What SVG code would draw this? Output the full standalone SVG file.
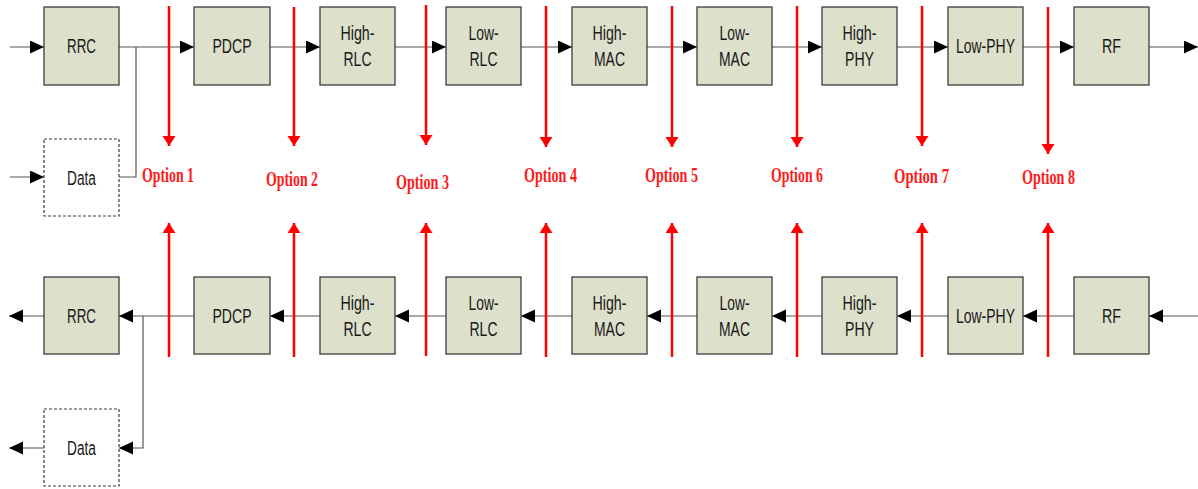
<svg xmlns="http://www.w3.org/2000/svg" width="1198" height="489" viewBox="0 0 1198 489">
  <style>
    .box { fill: #dde0cb; stroke: #3c3c3c; stroke-width: 1.3; }
    .data { fill: #ffffff; stroke: #3c3c3c; stroke-width: 1.2; stroke-dasharray: 3 2; }
    .lbl { font-family: "Liberation Sans", Arial, sans-serif; font-size: 19.5px; fill: #1a1a1a; text-anchor: middle; }
    .opt { font-family: "Liberation Serif", "Times New Roman", serif; font-size: 20px; font-weight: bold; fill: #ff1a1a; }
    .wire { fill: none; stroke: #555555; stroke-width: 1.2; }
    .split { stroke: #ff0000; stroke-width: 2.5; fill: none; }
  </style>
  <defs>
    <marker id="head" markerUnits="userSpaceOnUse" markerWidth="15" markerHeight="14" refX="14" refY="6.5" orient="auto">
      <path d="M0,0 L14,6.5 L0,13 Z" fill="#000000"/>
    </marker>
    <marker id="redhead" markerUnits="userSpaceOnUse" markerWidth="11" markerHeight="14" refX="10" refY="6.5" orient="auto">
      <path d="M0,0 L10,6.5 L0,13 Z" fill="#ff0000"/>
    </marker>
  </defs>

  <!-- connectors -->
  <g id="connectors">
    <!-- downlink chain (top row) -->
    <line class="wire" x1="10" y1="47" x2="44" y2="47" marker-end="url(#head)"/>
    <line class="wire" x1="119" y1="47" x2="194" y2="47" marker-end="url(#head)"/>
    <polyline class="wire" points="119,177 136,177 136,47"/>
    <line class="wire" x1="10" y1="177" x2="44" y2="177" marker-end="url(#head)"/>
    <line class="wire" x1="270" y1="47" x2="320" y2="47" marker-end="url(#head)"/>
    <line class="wire" x1="395" y1="47" x2="446" y2="47" marker-end="url(#head)"/>
    <line class="wire" x1="521" y1="47" x2="572" y2="47" marker-end="url(#head)"/>
    <line class="wire" x1="647" y1="47" x2="697" y2="47" marker-end="url(#head)"/>
    <line class="wire" x1="772" y1="47" x2="822" y2="47" marker-end="url(#head)"/>
    <line class="wire" x1="897" y1="47" x2="948" y2="47" marker-end="url(#head)"/>
    <line class="wire" x1="1023" y1="47" x2="1074" y2="47" marker-end="url(#head)"/>
    <line class="wire" x1="1149" y1="47" x2="1198" y2="47" marker-end="url(#head)"/>

    <!-- uplink chain (bottom row) -->
    <line class="wire" x1="1198" y1="316" x2="1149" y2="316" marker-end="url(#head)"/>
    <line class="wire" x1="1074" y1="316" x2="1023" y2="316" marker-end="url(#head)"/>
    <line class="wire" x1="948" y1="316" x2="897" y2="316" marker-end="url(#head)"/>
    <line class="wire" x1="822" y1="316" x2="772" y2="316" marker-end="url(#head)"/>
    <line class="wire" x1="697" y1="316" x2="647" y2="316" marker-end="url(#head)"/>
    <line class="wire" x1="572" y1="316" x2="521" y2="316" marker-end="url(#head)"/>
    <line class="wire" x1="446" y1="316" x2="395" y2="316" marker-end="url(#head)"/>
    <line class="wire" x1="320" y1="316" x2="270" y2="316" marker-end="url(#head)"/>
    <line class="wire" x1="194" y1="316" x2="119" y2="316" marker-end="url(#head)"/>
    <polyline class="wire" points="143,316 143,448 119,448" marker-end="url(#head)"/>
    <line class="wire" x1="44" y1="316" x2="9" y2="316" marker-end="url(#head)"/>
    <line class="wire" x1="44" y1="448" x2="9" y2="448" marker-end="url(#head)"/>

    <!-- split points: downward arrows above, upward arrows below -->
    <line class="split" x1="169" y1="6" x2="169" y2="146" marker-end="url(#redhead)"/>
    <line class="split" x1="294" y1="7" x2="294" y2="146" marker-end="url(#redhead)"/>
    <line class="split" x1="426" y1="5" x2="426" y2="145" marker-end="url(#redhead)"/>
    <line class="split" x1="546" y1="6" x2="546" y2="147" marker-end="url(#redhead)"/>
    <line class="split" x1="672" y1="6" x2="672" y2="147" marker-end="url(#redhead)"/>
    <line class="split" x1="797" y1="6" x2="797" y2="147" marker-end="url(#redhead)"/>
    <line class="split" x1="922" y1="6" x2="922" y2="146" marker-end="url(#redhead)"/>
    <line class="split" x1="1048" y1="7" x2="1048" y2="154" marker-end="url(#redhead)"/>

    <line class="split" x1="169" y1="357" x2="169" y2="223" marker-end="url(#redhead)"/>
    <line class="split" x1="294" y1="357" x2="294" y2="223" marker-end="url(#redhead)"/>
    <line class="split" x1="426" y1="356" x2="426" y2="223" marker-end="url(#redhead)"/>
    <line class="split" x1="546" y1="357" x2="546" y2="223" marker-end="url(#redhead)"/>
    <line class="split" x1="672" y1="357" x2="672" y2="223" marker-end="url(#redhead)"/>
    <line class="split" x1="797" y1="357" x2="797" y2="223" marker-end="url(#redhead)"/>
    <line class="split" x1="922" y1="357" x2="922" y2="223" marker-end="url(#redhead)"/>
    <line class="split" x1="1048" y1="357" x2="1048" y2="223" marker-end="url(#redhead)"/>
  </g>

  <!-- split option labels -->
  <g id="option-labels">
    <text class="opt" x="142" y="182" textLength="52" lengthAdjust="spacingAndGlyphs">Option 1</text>
    <text class="opt" x="266" y="186" textLength="52" lengthAdjust="spacingAndGlyphs">Option 2</text>
    <text class="opt" x="396" y="189" textLength="53" lengthAdjust="spacingAndGlyphs">Option 3</text>
    <text class="opt" x="524" y="182" textLength="53" lengthAdjust="spacingAndGlyphs">Option 4</text>
    <text class="opt" x="645" y="182" textLength="53" lengthAdjust="spacingAndGlyphs">Option 5</text>
    <text class="opt" x="771" y="182" textLength="52" lengthAdjust="spacingAndGlyphs">Option 6</text>
    <text class="opt" x="894" y="183" textLength="55" lengthAdjust="spacingAndGlyphs">Option 7</text>
    <text class="opt" x="1022" y="184" textLength="53" lengthAdjust="spacingAndGlyphs">Option 8</text>
  </g>

  <!-- downlink nodes -->
  <g id="dl-rrc"><rect class="box" x="44" y="7" width="75" height="78"/><text class="lbl" x="81.5" y="53" textLength="29" lengthAdjust="spacingAndGlyphs">RRC</text></g>
  <g id="dl-data"><rect class="data" x="44" y="139" width="75" height="77"/><text class="lbl" x="81.5" y="185" textLength="29" lengthAdjust="spacingAndGlyphs">Data</text></g>
  <g id="dl-pdcp"><rect class="box" x="194" y="7" width="76" height="78"/><text class="lbl" x="232" y="53" textLength="39" lengthAdjust="spacingAndGlyphs">PDCP</text></g>
  <g id="dl-high-rlc"><rect class="box" x="320" y="7" width="75" height="78"/><text class="lbl" x="357.5" y="39.5" textLength="34" lengthAdjust="spacingAndGlyphs">High-</text><text class="lbl" x="357.5" y="66" textLength="28" lengthAdjust="spacingAndGlyphs">RLC</text></g>
  <g id="dl-low-rlc"><rect class="box" x="446" y="7" width="75" height="78"/><text class="lbl" x="483.5" y="39.5" textLength="30" lengthAdjust="spacingAndGlyphs">Low-</text><text class="lbl" x="483.5" y="66" textLength="28" lengthAdjust="spacingAndGlyphs">RLC</text></g>
  <g id="dl-high-mac"><rect class="box" x="572" y="7" width="75" height="78"/><text class="lbl" x="609.5" y="39.5" textLength="34" lengthAdjust="spacingAndGlyphs">High-</text><text class="lbl" x="609.5" y="66" textLength="31" lengthAdjust="spacingAndGlyphs">MAC</text></g>
  <g id="dl-low-mac"><rect class="box" x="697" y="7" width="75" height="78"/><text class="lbl" x="734.5" y="39.5" textLength="30" lengthAdjust="spacingAndGlyphs">Low-</text><text class="lbl" x="734.5" y="66" textLength="31" lengthAdjust="spacingAndGlyphs">MAC</text></g>
  <g id="dl-high-phy"><rect class="box" x="822" y="7" width="75" height="78"/><text class="lbl" x="859.5" y="39.5" textLength="34" lengthAdjust="spacingAndGlyphs">High-</text><text class="lbl" x="859.5" y="66" textLength="29" lengthAdjust="spacingAndGlyphs">PHY</text></g>
  <g id="dl-low-phy"><rect class="box" x="948" y="7" width="75" height="78"/><text class="lbl" x="985.5" y="53" textLength="59" lengthAdjust="spacingAndGlyphs">Low-PHY</text></g>
  <g id="dl-rf"><rect class="box" x="1074" y="7" width="75" height="78"/><text class="lbl" x="1111.5" y="53" textLength="19" lengthAdjust="spacingAndGlyphs">RF</text></g>

  <!-- uplink nodes -->
  <g id="ul-rrc"><rect class="box" x="44" y="277" width="75" height="77"/><text class="lbl" x="81.5" y="322.5" textLength="29" lengthAdjust="spacingAndGlyphs">RRC</text></g>
  <g id="ul-data"><rect class="data" x="44" y="409" width="75" height="77"/><text class="lbl" x="81.5" y="455" textLength="29" lengthAdjust="spacingAndGlyphs">Data</text></g>
  <g id="ul-pdcp"><rect class="box" x="194" y="277" width="76" height="77"/><text class="lbl" x="232" y="322.5" textLength="39" lengthAdjust="spacingAndGlyphs">PDCP</text></g>
  <g id="ul-high-rlc"><rect class="box" x="320" y="277" width="75" height="77"/><text class="lbl" x="357.5" y="310" textLength="34" lengthAdjust="spacingAndGlyphs">High-</text><text class="lbl" x="357.5" y="336" textLength="28" lengthAdjust="spacingAndGlyphs">RLC</text></g>
  <g id="ul-low-rlc"><rect class="box" x="446" y="277" width="75" height="77"/><text class="lbl" x="483.5" y="310" textLength="30" lengthAdjust="spacingAndGlyphs">Low-</text><text class="lbl" x="483.5" y="336" textLength="28" lengthAdjust="spacingAndGlyphs">RLC</text></g>
  <g id="ul-high-mac"><rect class="box" x="572" y="277" width="75" height="77"/><text class="lbl" x="609.5" y="310" textLength="34" lengthAdjust="spacingAndGlyphs">High-</text><text class="lbl" x="609.5" y="336" textLength="31" lengthAdjust="spacingAndGlyphs">MAC</text></g>
  <g id="ul-low-mac"><rect class="box" x="697" y="277" width="75" height="77"/><text class="lbl" x="734.5" y="310" textLength="30" lengthAdjust="spacingAndGlyphs">Low-</text><text class="lbl" x="734.5" y="336" textLength="31" lengthAdjust="spacingAndGlyphs">MAC</text></g>
  <g id="ul-high-phy"><rect class="box" x="822" y="277" width="75" height="77"/><text class="lbl" x="859.5" y="310" textLength="34" lengthAdjust="spacingAndGlyphs">High-</text><text class="lbl" x="859.5" y="336" textLength="29" lengthAdjust="spacingAndGlyphs">PHY</text></g>
  <g id="ul-low-phy"><rect class="box" x="948" y="277" width="75" height="77"/><text class="lbl" x="985.5" y="322.5" textLength="59" lengthAdjust="spacingAndGlyphs">Low-PHY</text></g>
  <g id="ul-rf"><rect class="box" x="1074" y="277" width="75" height="77"/><text class="lbl" x="1111.5" y="322.5" textLength="19" lengthAdjust="spacingAndGlyphs">RF</text></g>
</svg>
